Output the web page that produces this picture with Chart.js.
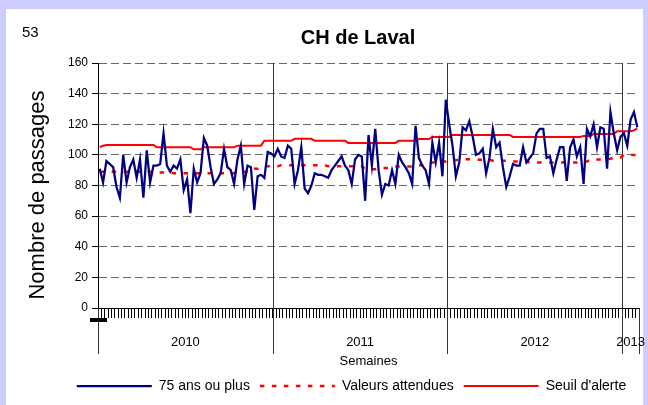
<!DOCTYPE html>
<html>
<head>
<meta charset="utf-8">
<script src="https://cdn.jsdelivr.net/npm/chart.js@4.4.1/dist/chart.umd.min.js"></script>
<style>
html,body{margin:0;padding:0;background:#fff;}
canvas{display:block;}
</style>
</head>
<body>
<canvas id="c" width="648" height="405"></canvas>
<script>
// ---- data ----
const years = ['2010', '2011', '2012', '2013'];
const weeksPerYear = [52, 52, 52, 5];

const passages75 = [
  91, 82, 96, 94, 92, 79, 72, 100, 82, 92, 97, 85, 97, 72, 103, 82, 93, 93, 94, 114,
  93, 89, 93, 91, 97, 77, 84, 62, 91, 82, 88, 111, 106, 92, 81, 84, 88, 104, 92, 90,
  81, 97, 106, 81, 93, 92, 64, 86, 87, 85, 102, 101, 99, 104, 99, 98, 106, 104, 81, 90,
  105, 78, 75, 80, 88, 87, 87, 86, 85, 90, 93, 96, 99, 93, 90, 81, 97, 100, 99, 70,
  113, 93, 117, 90, 74, 81, 80, 90, 81, 100, 95, 92, 88, 81, 119, 98, 93, 90, 81, 108,
  95, 108, 86, 136, 120, 106, 86, 95, 118, 116, 122, 112, 100, 101, 104, 88, 98, 117, 105, 108,
  92, 79, 86, 94, 93, 93, 105, 95, 98, 101, 114, 117, 117, 98, 99, 88, 97, 105, 105, 83,
  105, 110, 99, 105, 81, 117, 112, 120, 105, 118, 117, 91, 128, 114, 103, 112, 114, 106, 123, 128,
  118
];

const valeursAttendues = [
  89, 89, 89, 89, 89, 89, 89, 89, 89, 89, 89, 89, 89, 89, 89, 89, 89, 88.5, 88.5, 88.5,
  88.5, 88.5, 88, 88, 88, 88, 88, 88, 88, 88, 88, 88, 88, 88, 88, 88, 88, 88, 88, 88,
  88, 89, 89, 89, 89, 89, 91, 91, 92.5, 92.5, 92.5, 92.5, 92.5, 92.5, 93.3, 93.3, 93.3, 93.3, 93.3, 93.3,
  93.3, 93.3, 93.3, 93.3, 93.3, 93.3, 93.3, 93.3, 92.5, 92.5, 92.5, 92.5, 92.5, 92.5, 92.5, 92.5, 92.5, 92.5, 92.5, 90.6,
  90.6, 90.6, 90.6, 91.5, 91.5, 91.5, 91.5, 92.4, 92.4, 92.4, 92.4, 92.4, 92.4, 92.4, 93.3, 93.3, 93.3, 93.3, 95, 95,
  95, 95.6, 95.6, 95.6, 96.6, 96.6, 96.6, 96.6, 97.2, 97.2, 97.2, 97.2, 97.2, 96.8, 96.8, 96.8, 96.8, 96.2, 96.2, 96.2,
  96.2, 96.2, 96.2, 95.6, 95.6, 95.6, 95.6, 95.6, 95, 95, 95, 95, 95, 95, 95, 95, 95, 95, 95, 95,
  95, 95, 95, 95.6, 95.6, 95.6, 97, 97, 97, 97, 97.4, 97.4, 97.4, 98.3, 98.3, 98.3, 100, 100, 100, 100,
  100
];

const seuilAlerte = [
  105, 106, 106.5, 106.5, 106.5, 106.5, 106.5, 106.5, 106.5, 106.5, 106.5, 106.5, 106.5, 106.5, 106.5, 106.5, 106.5, 105, 105, 105,
  105, 105, 105, 105, 105, 105, 105, 105, 103.6, 103.6, 103.6, 105, 105, 105, 105, 105, 105, 105, 105, 105,
  105, 106, 106, 106, 106, 106, 106, 106, 106, 109.2, 109.2, 109.2, 109.2, 109.2, 109.2, 109.2, 109.2, 109.2, 110.5, 110.5,
  110.5, 110.5, 110.5, 110.5, 109.2, 109.2, 109.2, 109.2, 109.2, 109.2, 109.2, 109.2, 109.2, 109.2, 107.8, 107.8, 107.8, 107.8, 107.8, 107.8,
  107.8, 107.8, 107.8, 107.8, 107.8, 107.8, 107.8, 107.8, 107.8, 109.2, 109.2, 109.2, 109.2, 109.2, 109.2, 110.3, 110.3, 110.3, 110.3, 111.7,
  111.7, 111.7, 111.7, 111.7, 111.7, 113, 113, 113, 113, 113, 113, 113, 113, 113, 113, 113, 113, 113, 113, 113,
  113, 113, 113, 111.7, 111.7, 111.7, 111.7, 111.7, 111.7, 111.7, 111.7, 111.7, 111.7, 111.7, 111.7, 111.7, 111.7, 111.7, 111.7, 111.7,
  111.7, 111.7, 111.7, 111.7, 112.4, 112.4, 112.4, 113.7, 113.7, 113.7, 113.7, 113.7, 113.7, 113.7, 115.4, 115.4, 115.4, 115.4, 115.4, 116,
  117.3
];

const yTicks = [0, 20, 40, 60, 80, 100, 120, 140, 160];

// ---- labels built from years / weeks ----
const weekLabels = [];
years.forEach((y, k) => {
  for (let w = 1; w <= weeksPerYear[k]; w++) weekLabels.push(y + '-S' + String(w).padStart(2, '0'));
});

Chart.defaults.font.family = "'Liberation Sans', Arial, sans-serif";
Chart.defaults.color = '#000';

const decor = {
  id: 'decor',
  beforeDraw(chart) {
    const {ctx, width, height} = chart;
    ctx.save();
    ctx.fillStyle = '#CCCCFF';
    ctx.fillRect(0, 0, width, height);
    ctx.fillStyle = '#FFFFFF';
    ctx.fillRect(6, 9, width - 11, height - 9);
    ctx.restore();
  },
  beforeDatasetsDraw(chart) {
    const {ctx, chartArea} = chart;
    const xs = chart.scales.x;
    let cum = 0;
    const bounds = [0];
    weeksPerYear.forEach(n => { cum += n; bounds.push(cum); });
    ctx.save();
    ctx.strokeStyle = '#333333';
    ctx.lineWidth = 1;
    bounds.forEach((b, k) => {
      const x = Math.round(xs.getPixelForValue(b - 0.5)) + 0.5;
      const inner = k > 0 && k < bounds.length - 1;
      ctx.beginPath();
      ctx.moveTo(x, inner ? chartArea.top : chartArea.bottom);
      ctx.lineTo(x, chartArea.bottom + 46);
      ctx.stroke();
    });
    // year labels
    ctx.fillStyle = '#000';
    ctx.font = "13px 'Liberation Sans', Arial, sans-serif";
    ctx.textAlign = 'center';
    ctx.textBaseline = 'middle';
    years.forEach((y, k) => {
      const x0 = xs.getPixelForValue(bounds[k] - 0.5);
      const x1 = xs.getPixelForValue(bounds[k + 1] - 0.5);
      ctx.fillText(y, (x0 + x1) / 2, chartArea.bottom + 34);
    });
    // small black bar at axis origin
    ctx.fillRect(chartArea.left - 8, chartArea.bottom + 10, 17, 4);
    ctx.restore();
  },
  afterDraw(chart) {
    const {ctx} = chart;
    ctx.save();
    ctx.fillStyle = '#000';
    ctx.textBaseline = 'middle';
    ctx.textAlign = 'left';
    ctx.font = "15px 'Liberation Sans', Arial, sans-serif";
    ctx.fillText('53', 22, 33);
    ctx.textAlign = 'center';
    ctx.font = "bold 20px 'Liberation Sans', Arial, sans-serif";
    ctx.fillText('CH de Laval', 358, 38);
    ctx.translate(38, 195);
    ctx.rotate(-Math.PI / 2);
    ctx.font = "22px 'Liberation Sans', Arial, sans-serif";
    ctx.fillText('Nombre de passages', 0, 0);
    ctx.restore();
  }
};

new Chart(document.getElementById('c'), {
  type: 'line',
  data: {
    labels: weekLabels,
    datasets: [
      {
        label: '75 ans ou plus',
        data: passages75,
        borderColor: '#000080',
        backgroundColor: '#000080',
        borderWidth: 2.25,
        pointRadius: 0,
        tension: 0,
        order: 1
      },
      {
        label: 'Valeurs attendues',
        data: valeursAttendues,
        borderColor: '#FF0000',
        backgroundColor: '#FF0000',
        borderWidth: 2.5,
        borderDash: [4.5, 7.5],
        pointRadius: 0,
        tension: 0,
        order: 2
      },
      {
        label: "Seuil d'alerte",
        data: seuilAlerte,
        borderColor: '#FF0000',
        backgroundColor: '#FF0000',
        borderWidth: 2,
        pointRadius: 0,
        tension: 0,
        order: 3
      }
    ]
  },
  options: {
    responsive: false,
    animation: false,
    devicePixelRatio: 1,
    layout: { padding: { top: 63, left: 64, right: 9, bottom: 2 } },
    plugins: {
      title: { display: false },
      tooltip: { enabled: false },
      legend: {
        display: true,
        position: 'bottom',
        align: 'center',
        labels: {
          color: '#000',
          font: { size: 14 },
          padding: 10,
          usePointStyle: true,
          pointStyle: 'line',
          pointStyleWidth: 75,
          generateLabels(chart) {
            const items = Chart.defaults.plugins.legend.labels.generateLabels(chart);
            items.forEach(it => {
              const ds = chart.data.datasets[it.datasetIndex];
              it.lineDash = ds.borderDash || [];
              it.lineWidth = ds.borderWidth;
              it.strokeStyle = ds.borderColor;
              it.pointStyle = 'line';
            });
            return items;
          }
        }
      }
    },
    scales: {
      x: {
        type: 'category',
        offset: true,
        grid: {
          display: true,
          offset: true,
          drawOnChartArea: false,
          drawTicks: true,
          tickLength: 10,
          color: '#000',
          lineWidth: 1
        },
        border: { display: true, color: '#000', width: 1 },
        ticks: { display: false, autoSkip: false },
        title: {
          display: true,
          text: 'Semaines',
          color: '#000',
          font: { size: 13 },
          padding: { top: 35.4, bottom: 0 }
        }
      },
      y: {
        min: 0,
        max: 160,
        afterBuildTicks(scale) { scale.ticks = yTicks.map(v => ({ value: v })); },
        grid: {
          display: true,
          color: ctx => (ctx.tick && ctx.tick.value === 0) ? 'rgba(0,0,0,0)' : '#666666',
          tickColor: '#000',
          lineWidth: 1,
          drawTicks: true,
          tickLength: 6
        },
        border: { display: true, color: '#000', width: 1, dash: [8, 4] },
        ticks: { color: '#000', font: { size: 12 }, padding: 4 }
      }
    }
  },
  plugins: [decor]
});
</script>
</body>
</html>
